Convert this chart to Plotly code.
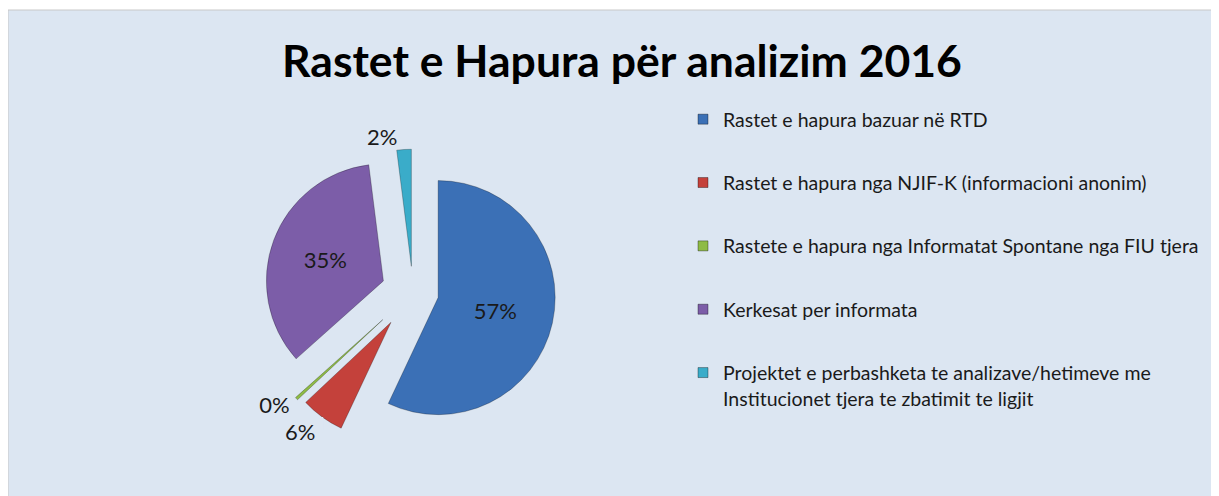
import plotly.graph_objects as go

# browser body margin is 8px; the figure is sized to fill the rest of the 1219x496 window
OFF = 8
W, H = 1219 - OFF, 496 - OFF

labels = [
    "Rastet e hapura bazuar në RTD",
    "Rastet e hapura nga NJIF-K (informacioni anonim)",
    "Rastete e hapura nga Informatat Spontane nga FIU tjera",
    "Kerkesat per informata",
    "Projektet e perbashketa te analizave/hetimeve me<br>Institucionet tjera te zbatimit te ligjit",
]
values = [57, 6, 0.4, 34.6, 2]
colors = ["#3B70B6", "#C4413B", "#8EBB45", "#7C5DA8", "#3AACC9"]
text_positions = ["inside", "outside", "outside", "inside", "outside"]
pulls = [0.22, 0.32, 0.35, 0.27, 0.22]
title_text = "Rastet e Hapura për analizim 2016"

FONT = "Lato"
BG = "#DCE6F2"
TXT = "#1a1a1a"


def fx(px):  # page x pixel -> paper fraction
    return (px - OFF) / W


def fy(py):  # page y pixel (from top) -> paper fraction
    return 1 - (py - OFF) / H


fig = go.Figure()

cx, cy, half = 413, 292, 158
fig.add_trace(go.Pie(
    labels=labels,
    values=values,
    sort=False,
    direction="clockwise",
    rotation=0,
    pull=pulls,
    marker=dict(colors=colors, line=dict(color="rgba(0,0,0,0.25)", width=1)),
    texttemplate="<span style='color:%s'>%%{percent:.0%%}</span>" % TXT,
    textposition=text_positions,
    insidetextorientation="horizontal",
    textfont=dict(family=FONT, size=22, color=TXT),
    insidetextfont=dict(family=FONT, size=22, color=TXT),
    outsidetextfont=dict(family=FONT, size=22, color=BG),
    showlegend=False,
    hoverinfo="label+percent",
    domain=dict(x=[fx(cx - half), fx(cx + half)],
                y=[fy(cy + half), fy(cy - half)]),
))

for i, (lab, col) in enumerate(zip(labels, colors)):
    fig.add_trace(go.Scatter(
        x=[None], y=[None], mode="markers", name=lab,
        legendgroup=f"g{i}",
        marker=dict(symbol="square", size=10, color=col,
                    line=dict(color="rgba(0,0,0,0.35)", width=1)),
    ))

fig.update_layout(
    width=W, height=H,
    margin=dict(l=0, r=0, t=0, b=0, autoexpand=False),
    paper_bgcolor="white",
    plot_bgcolor="rgba(0,0,0,0)",
    xaxis=dict(visible=False),
    yaxis=dict(visible=False),
    title=dict(text=title_text, x=fx(622), xanchor="center",
               y=fy(61), yanchor="middle",
               font=dict(family=FONT, size=44.5, color="#000", weight="bold")),
    legend=dict(x=fx(683), xanchor="left", y=fy(100), yanchor="top",
                font=dict(family=FONT, size=19.5, color=TXT),
                bgcolor="rgba(0,0,0,0)", tracegroupgap=35, valign="top",
                traceorder="grouped"),
    shapes=[dict(type="rect", xref="paper", yref="paper", layer="below",
                 x0=0, x1=1, y0=-0.01, y1=fy(10),
                 fillcolor=BG, line=dict(color="#C8C8C8", width=1))],
)

fig.write_html("out.html")
